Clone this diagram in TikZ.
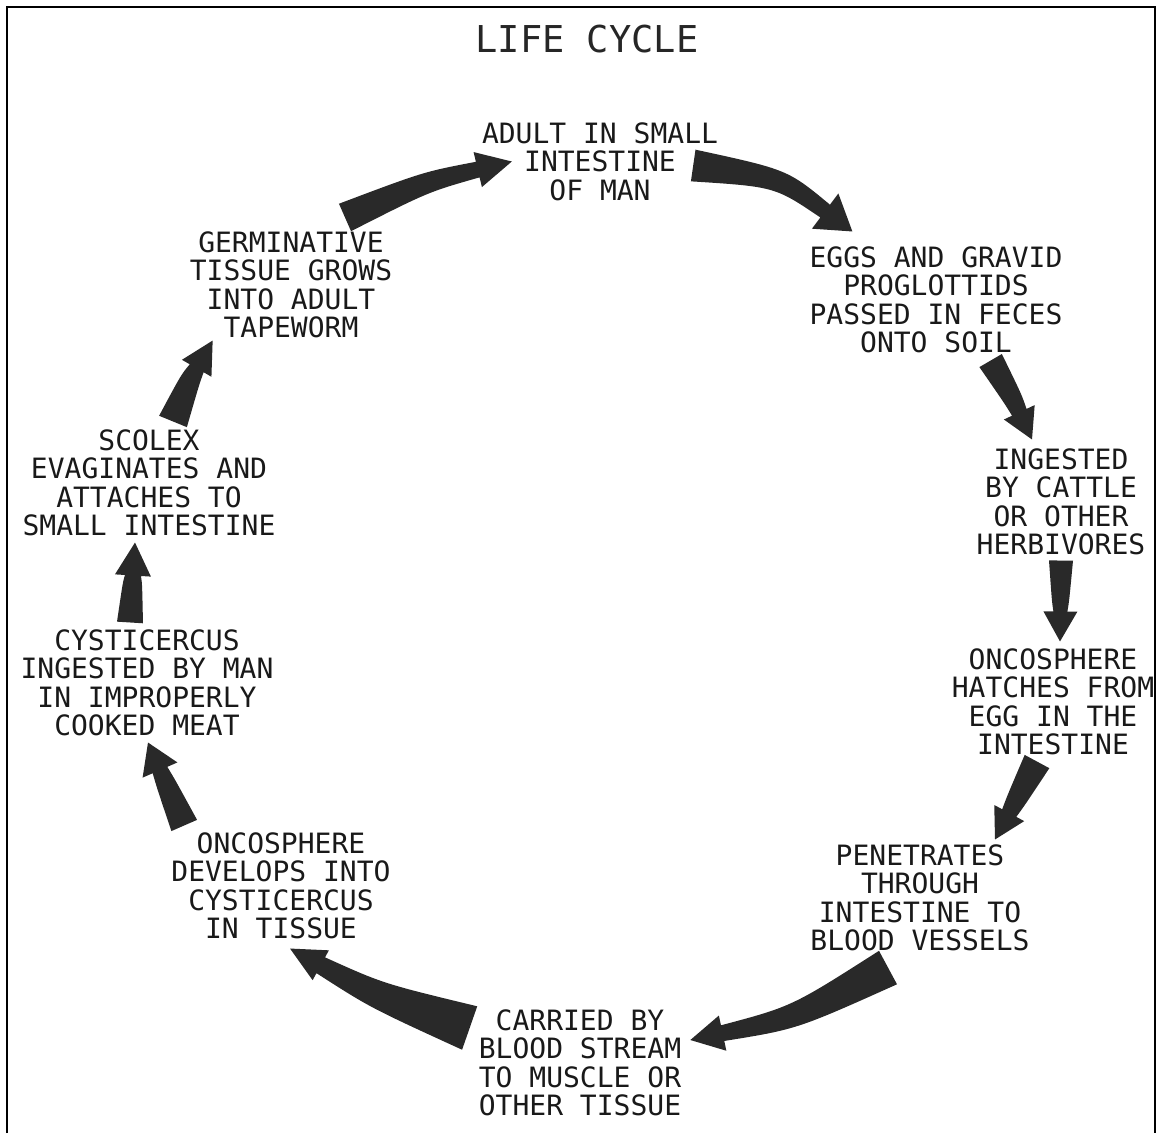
\documentclass[tikz,border=0pt]{standalone}
\usepackage{fontspec}
\setmonofont{DejaVu Sans Mono}
\usetikzlibrary{calc}
\definecolor{inkgray}{rgb}{0.16,0.16,0.16}

% tapered arrow: tail, tip, bend, tail half width, neck half width, head length, head half width
\newcommand{\cyclearrow}[7]{%
  \coordinate (ct) at #1;
  \coordinate (ch) at #2;
  \coordinate (cm) at ($(ct)!0.5!(ch)$);
  \coordinate (cc) at ($(cm)!#3pt!90:(ch)$);
  \coordinate (cb) at ($(ch)!#6pt!(cc)$);
  \pgfmathsetlengthmacro{\cmid}{(#4pt+2*#5pt)/3}
  \fill[arrowbody] ($(ct)!#4pt!90:(cc)$) .. controls ($(cc)!\cmid!90:(cb)$) .. ($(cb)!#5pt!90:(ch)$)
    -- ($(cb)!#7pt!90:(ch)$) -- (ch) -- ($(cb)!#7pt!-90:(ch)$) -- ($(cb)!#5pt!-90:(ch)$)
    .. controls ($(cc)!\cmid!-90:(cb)$) .. ($(ct)!#4pt!-90:(cc)$) -- cycle;}

\begin{document}
\begin{tikzpicture}[x=1pt, y=-1pt,
    stage/.style={font=\ttfamily\fontsize{28}{28.5}\selectfont, align=center,
                  inner sep=2pt, text=black!90},
    heading/.style={font=\ttfamily\fontsize{37}{40}\selectfont, text=black!85},
    arrowbody/.style={fill=inkgray},
    frame/.style={line width=2.5pt}
]
\useasboundingbox (0,0) rectangle (1159,1133);
\draw[frame] (7,1133) -- (7,7) -- (1155,7) -- (1155,1133);

\node[heading] (title) at (587,39) {LIFE CYCLE};

\node[stage] (adult) at (600,161.5) {ADULT IN SMALL\\INTESTINE\\OF MAN};
\node[stage] (eggs) at (936,300) {EGGS AND GRAVID\\PROGLOTTIDS\\PASSED IN FECES\\ONTO SOIL};
\node[stage] (ingested) at (1061,502) {INGESTED\\BY CATTLE\\OR OTHER\\HERBIVORES};
\node[stage] (hatches) at (1053,702) {ONCOSPHERE\\HATCHES FROM\\EGG IN THE\\INTESTINE};
\node[stage] (penetrates) at (920,898) {PENETRATES\\THROUGH\\INTESTINE TO\\BLOOD VESSELS};
\node[stage] (carried) at (580,1063) {CARRIED BY\\BLOOD STREAM\\TO MUSCLE OR\\OTHER TISSUE};
\node[stage] (develops) at (281,886) {ONCOSPHERE\\DEVELOPS INTO\\CYSTICERCUS\\IN TISSUE};
\node[stage] (cysticercus) at (147,683) {CYSTICERCUS\\INGESTED BY MAN\\IN IMPROPERLY\\COOKED MEAT};
\node[stage] (scolex) at (149,483) {SCOLEX\\EVAGINATES AND\\ATTACHES TO\\SMALL INTESTINE};
\node[stage] (germinative) at (291,285) {GERMINATIVE\\TISSUE GROWS\\INTO ADULT\\TAPEWORM};

% arrows round the cycle
\cyclearrow{($(adult.east)+(-27,4)$)}{($(eggs.north west)+(45,-13)$)}{22}{16}{8}{34}{22}
\cyclearrow{($(eggs.south east)+(-74,5)$)}{($(ingested.north)+(-29,-7)$)}{2}{13}{8}{30}{17}
\cyclearrow{($(ingested.south)+(0,3)$)}{($(hatches.north)+(7,-5)$)}{0}{12}{7}{30}{17}
\cyclearrow{($(hatches.south)+(-16,4)$)}{($(penetrates.north)+(75,-3)$)}{0}{14}{8}{30}{17}
\cyclearrow{($(penetrates.south)+(-32,14)$)}{($(carried.east)+(7,-23)$)}{15}{19}{8}{33}{18}
\cyclearrow{($(carried.west)+(-7,-35)$)}{($(develops.south)+(9,7)$)}{8}{23}{9}{35}{17}
\cyclearrow{($(develops.north west)+(15,-5)$)}{($(cysticercus.south)+(1,4)$)}{0}{14}{8}{30}{19}
\cyclearrow{($(cysticercus.north)+(-17,-5)$)}{($(scolex.south)+(-14,4)$)}{0}{13}{8}{33}{18}
\cyclearrow{($(scolex.north)+(24,-6)$)}{($(germinative.south west)+(25,0)$)}{3}{15}{8}{32}{17}
\cyclearrow{($(germinative.north)+(54,-12)$)}{($(adult.west)+(32,0)$)}{8}{15}{8}{35}{18}
\end{tikzpicture}
\end{document}
